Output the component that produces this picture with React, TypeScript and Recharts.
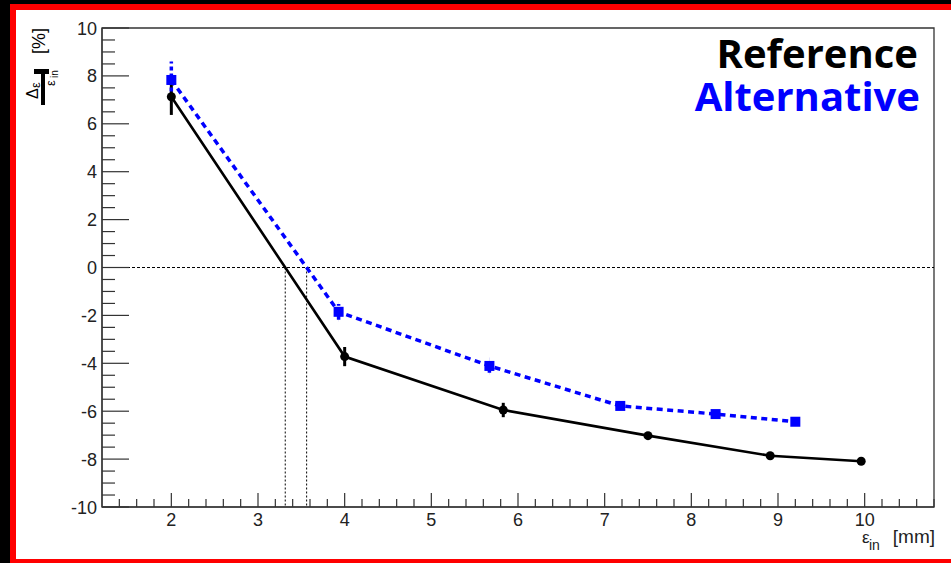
import React from "react";
import {
  ComposedChart,
  Line,
  XAxis,
  YAxis,
  ErrorBar,
  ReferenceLine,
  ReferenceArea,
} from "recharts";

// Reference (black, circles)
const refX = [2, 4, 5.83, 7.5, 8.91, 9.96];
const refY = [7.13, -3.72, -5.95, -7.02, -7.86, -8.09];
const refErr = [0.76, 0.4, 0.3, 0.15, 0.12, 0.12];

// Alternative (blue, squares, dashed)
const altX = [2, 3.93, 5.67, 7.18, 8.28, 9.2];
const altY = [7.83, -1.85, -4.11, -5.78, -6.12, -6.44];
const altErr = [0.77, 0.33, 0.28, 0.12, 0.1, 0.1];

const xMajor = [2, 3, 4, 5, 6, 7, 8, 9, 10];
const yMajor = [-10, -8, -6, -4, -2, 0, 2, 4, 6, 8, 10];

const X_MIN = 1.2;
const X_MAX = 10.8;
const Y_MIN = -10;
const Y_MAX = 10;

const round = (v: number, d: number) => Math.round(v * d) / d;

const xTicks: number[] = [];
for (let v = 1.4; v < X_MAX; v += 0.2) xTicks.push(round(v, 10));
const yTicks: number[] = [];
for (let v = Y_MIN; v <= Y_MAX + 1e-9; v += 0.5) yTicks.push(round(v, 10));

const refData = refX.map((x, i) => ({ x, y: refY[i], err: refErr[i] }));
const altData = altX.map((x, i) => ({ x, y: altY[i], err: altErr[i] }));

// where a series crosses zero, linear between points
function zeroCross(xs: number[], ys: number[]) {
  for (let i = 0; i < ys.length - 1; i++) {
    if (ys[i] >= 0 && ys[i + 1] < 0) {
      return xs[i] + (ys[i] / (ys[i] - ys[i + 1])) * (xs[i + 1] - xs[i]);
    }
  }
  return xs[0];
}
const refZero = zeroCross(refX, refY);
const altZero = zeroCross(altX, altY);

const axisFont = "'Liberation Sans', Arial, Helvetica, sans-serif";
const inked = "#222";

// plot box in page pixels
const PLOT_LEFT = 102;
const PLOT_BOTTOM = 507;

const renderYTick = (props: any) => {
  const { y, payload } = props;
  const x = PLOT_LEFT;
  const v = payload.value;
  const major = yMajor.some((m) => Math.abs(m - v) < 1e-6);
  return (
    <g key={"yt" + v}>
      <line x1={x} x2={x + (major ? 27 : 13)} y1={y} y2={y} stroke="#333" strokeWidth={1.2} />
      {major && (
        <text x={x - 5} y={y} dy={6.5} textAnchor="end" fontSize={18} fill={inked} fontFamily={axisFont}>
          {v}
        </text>
      )}
    </g>
  );
};

const renderXTick = (props: any) => {
  const { x, payload } = props;
  const y = PLOT_BOTTOM;
  const v = payload.value;
  const major = xMajor.some((m) => Math.abs(m - v) < 1e-6);
  return (
    <g key={"xt" + v}>
      <line x1={x} x2={x} y1={y} y2={y - (major ? 14 : 8)} stroke="#333" strokeWidth={1.2} />
      {major && (
        <text x={x} y={y} dy={19} textAnchor="middle" fontSize={18} fill={inked} fontFamily={axisFont}>
          {v}
        </text>
      )}
    </g>
  );
};

const circleDot = (p: any) => (
  <circle key={"r" + p.index} cx={p.cx} cy={p.cy} r={4.5} fill="#000" />
);
const squareDot = (p: any) => (
  <rect key={"a" + p.index} x={p.cx - 5} y={p.cy - 5} width={10} height={10} fill="#0000ff" />
);

export default function App() {
  return (
    <div style={{ position: "absolute", left: 0, top: 0, width: 951, height: 563, background: "#000", overflow: "hidden" }}>
      <div style={{ position: "absolute", left: 10, top: 4, width: 941, height: 565, background: "#ff0000" }} />
      <div style={{ position: "absolute", left: 16, top: 10, width: 935, height: 549, background: "#fff" }} />
      <div style={{ position: "absolute", left: 0, top: 0 }}>
        <ComposedChart width={951} height={563} margin={{ top: 28, right: 17, bottom: 26, left: 42 }}>
          <XAxis
            dataKey="x"
            type="number"
            domain={[X_MIN, X_MAX]}
            allowDataOverflow
            ticks={xTicks}
            interval={0}
            tick={renderXTick}
            tickLine={false}
            tickSize={0}
            tickMargin={0}
            height={30}
            axisLine={{ stroke: "#333", strokeWidth: 1.2 }}
          />
          <YAxis
            type="number"
            domain={[Y_MIN, Y_MAX]}
            allowDataOverflow
            ticks={yTicks}
            interval={0}
            tick={renderYTick}
            tickLine={false}
            tickSize={0}
            tickMargin={0}
            width={60}
            axisLine={{ stroke: "#333", strokeWidth: 1.2 }}
          />
          <ReferenceArea
            x1={X_MIN}
            x2={X_MAX}
            y1={Y_MIN}
            y2={Y_MAX}
            fill="none"
            stroke="#333"
            strokeWidth={1.3}
            fillOpacity={0}
            ifOverflow="visible"
          />
          <ReferenceLine y={0} stroke="#000" strokeWidth={1} strokeDasharray="3 2" />
          <ReferenceLine
            segment={[{ x: refZero, y: 0 }, { x: refZero, y: Y_MIN }]}
            stroke="#000"
            strokeWidth={1}
            strokeDasharray="2 2"
          />
          <ReferenceLine
            segment={[{ x: altZero, y: 0 }, { x: altZero, y: Y_MIN }]}
            stroke="#000"
            strokeWidth={1}
            strokeDasharray="2 2"
          />
          <Line
            data={refData}
            dataKey="y"
            type="linear"
            stroke="#000"
            strokeWidth={2.6}
            dot={circleDot}
            activeDot={false}
            isAnimationActive={false}
          >
            <ErrorBar dataKey="err" direction="y" width={0} stroke="#000" strokeWidth={3} />
          </Line>
          <Line
            data={altData}
            dataKey="y"
            type="linear"
            stroke="#0000ff"
            strokeWidth={3.5}
            strokeDasharray="6 4.5"
            dot={squareDot}
            activeDot={false}
            isAnimationActive={false}
          >
            <ErrorBar dataKey="err" direction="y" width={0} stroke="#0000ff" strokeWidth={3.5} strokeDasharray="4 3" />
          </Line>
        </ComposedChart>
      </div>
      <svg width={951} height={563} style={{ position: "absolute", left: 0, top: 0, pointerEvents: "none" }}>
        {/* y axis title: Δε / ε_in [%] (rotated) */}
        <g fill="#000" fontFamily={axisFont}>
          <text x={38} y={99} fontSize={16} transform="rotate(-90 38 99)">Δ</text>
          <text x={40} y={88} fontSize={13} transform="rotate(-90 40 88)">ε</text>
          <rect x={41} y={70} width={4} height={35} />
          <rect x={34} y={69} width={15} height={5} />
          <text x={55} y={86} fontSize={13} transform="rotate(-90 55 86)">ε</text>
          <text x={58} y={78} fontSize={10} transform="rotate(-90 58 78)">in</text>
          <text x={45} y={54} fontSize={18} transform="rotate(-90 45 54)">[%]</text>
        </g>
        {/* x axis title */}
        <g fill={inked} fontFamily={axisFont}>
          <text x={862} y={543} fontSize={17}>ε</text>
          <text x={869} y={550} fontSize={14}>in</text>
          <text x={935} y={543} fontSize={19} textAnchor="end">[mm]</text>
        </g>
        {/* legend */}
        <g fontFamily="'Open Sans', Lato, sans-serif" fontWeight={700} fontSize={40} textAnchor="end">
          <text x={918} y={68} fill="#000">Reference</text>
          <text x={920} y={111} fill="#0000ff">Alternative</text>
        </g>
      </svg>
    </div>
  );
}
